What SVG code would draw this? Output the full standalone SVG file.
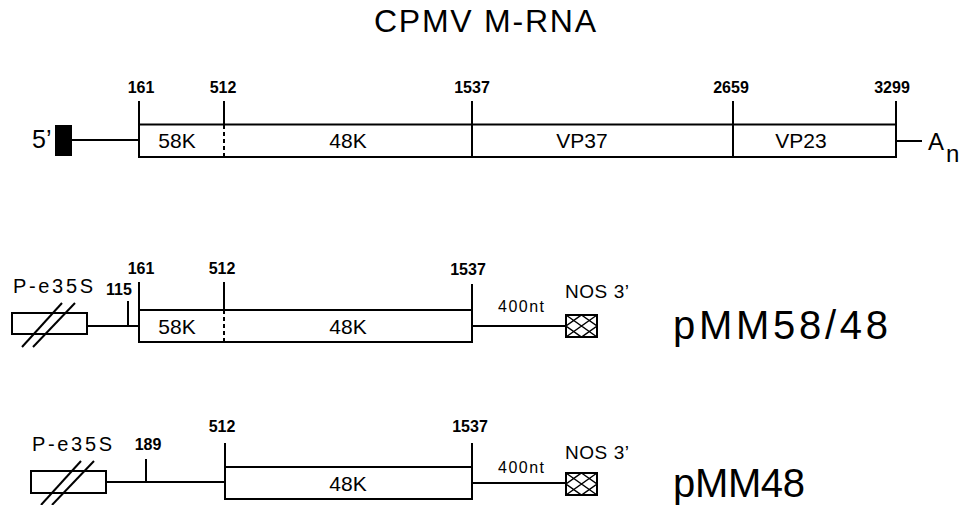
<svg xmlns="http://www.w3.org/2000/svg" width="960" height="505" viewBox="0 0 960 505">
<style>
text{font-family:"Liberation Sans",Arial,sans-serif;fill:#000}
.num{font-size:16px;font-weight:bold;text-anchor:middle}
.lbl{font-size:21px;text-anchor:middle}
.ln{stroke:#000;stroke-width:2;fill:none}
.box{stroke:#000;stroke-width:2;fill:#fff}
.dash{stroke:#000;stroke-width:2;stroke-dasharray:4,3}
.hatch{stroke:#000;stroke-width:1.5;fill:none}
.prom{font-size:20px}
.nt{font-size:16px}
.nos{font-size:19px}
.name{font-size:40px}
</style>
<rect width="960" height="505" fill="#fff"/>
<g id="title"><text x="374" y="32" font-size="32" textLength="222" lengthAdjust="spacing">CPMV M-RNA</text></g>

<g id="connectors">
<line class="ln" x1="72" y1="140" x2="139" y2="140"/>
<line class="ln" x1="896" y1="141" x2="922" y2="141"/>
<line class="ln" x1="87" y1="326" x2="139" y2="326"/>
<line class="ln" x1="472" y1="326" x2="566" y2="326"/>
<line class="ln" x1="106" y1="482" x2="225" y2="482"/>
<line class="ln" x1="472" y1="483" x2="566" y2="483"/>
</g>

<g id="mrna">
<text x="32" y="148" font-size="25">5’</text>
<rect x="55" y="125" width="17" height="31" fill="#000"/>
<rect class="box" x="139" y="124.5" width="757" height="32.5"/>
<line class="dash" x1="224" y1="125" x2="224" y2="157"/>
<line class="ln" x1="472" y1="124" x2="472" y2="157"/>
<line class="ln" x1="733" y1="124" x2="733" y2="157"/>
<line class="ln" x1="139" y1="101" x2="139" y2="125"/>
<line class="ln" x1="224" y1="101" x2="224" y2="125"/>
<line class="ln" x1="472" y1="101" x2="472" y2="125"/>
<line class="ln" x1="733" y1="101" x2="733" y2="125"/>
<line class="ln" x1="896" y1="101" x2="896" y2="125"/>
<text class="num" x="141" y="93">161</text>
<text class="num" x="223" y="93">512</text>
<text class="num" x="472" y="93">1537</text>
<text class="num" x="731" y="93">2659</text>
<text class="num" x="892" y="93">3299</text>
<text class="lbl" x="177" y="148">58K</text>
<text class="lbl" x="348" y="148">48K</text>
<text class="lbl" x="582" y="148">VP37</text>
<text class="lbl" x="801" y="148">VP23</text>
<text x="928" y="150" font-size="24">A</text>
<text x="946" y="162" font-size="24">n</text>
</g>

<g id="pMM58-48">
<text class="prom" x="13" y="293" textLength="80" lengthAdjust="spacing">P-e35S</text>
<rect class="box" x="12" y="313" width="75" height="21"/>
<line class="ln" x1="22" y1="347" x2="62" y2="303"/>
<line class="ln" x1="33" y1="347" x2="75" y2="303"/>
<line class="ln" x1="128" y1="301" x2="128" y2="326"/>
<text class="num" x="119" y="295">115</text>
<rect class="box" x="139" y="310" width="333" height="32"/>
<line class="dash" x1="224" y1="310" x2="224" y2="342"/>
<line class="ln" x1="139" y1="282" x2="139" y2="310"/>
<line class="ln" x1="224" y1="282" x2="224" y2="310"/>
<line class="ln" x1="472" y1="284" x2="472" y2="342"/>
<text class="num" x="141" y="274">161</text>
<text class="num" x="222" y="274">512</text>
<text class="num" x="468" y="275">1537</text>
<text class="lbl" x="177" y="334">58K</text>
<text class="lbl" x="348" y="334">48K</text>
<text class="nt" x="498" y="312" textLength="46" lengthAdjust="spacing">400nt</text>
<text class="nos" x="565" y="298" textLength="64" lengthAdjust="spacing">NOS 3’</text>
<rect class="box" x="566" y="315" width="31" height="22"/>
<path class="hatch" d="M566,315 L597,337 M597,315 L566,337 M581.5,315 L597,326 L581.5,337 L566,326 Z"/>
<text class="name" x="673" y="339" textLength="215" lengthAdjust="spacing">pMM58/48</text>
</g>

<g id="pMM48">
<text class="prom" x="32" y="451" textLength="80" lengthAdjust="spacing">P-e35S</text>
<rect class="box" x="31" y="471" width="75" height="22"/>
<line class="ln" x1="41" y1="505" x2="81" y2="461"/>
<line class="ln" x1="52" y1="505" x2="94" y2="461"/>
<line class="ln" x1="146" y1="459" x2="146" y2="482"/>
<text class="num" x="148" y="450">189</text>
<rect class="box" x="225" y="467" width="247" height="32"/>
<line class="ln" x1="225" y1="443" x2="225" y2="467"/>
<line class="ln" x1="472" y1="443" x2="472" y2="499"/>
<text class="num" x="222" y="432">512</text>
<text class="num" x="470" y="432">1537</text>
<text class="lbl" x="348" y="491">48K</text>
<text class="nt" x="498" y="473" textLength="46" lengthAdjust="spacing">400nt</text>
<text class="nos" x="565" y="459" textLength="64" lengthAdjust="spacing">NOS 3’</text>
<rect class="box" x="566" y="473" width="31" height="22"/>
<path class="hatch" d="M566,473 L597,495 M597,473 L566,495 M581.5,473 L597,484 L581.5,495 L566,484 Z"/>
<text class="name" x="673" y="497" textLength="132" lengthAdjust="spacing">pMM48</text>
</g>
</svg>
